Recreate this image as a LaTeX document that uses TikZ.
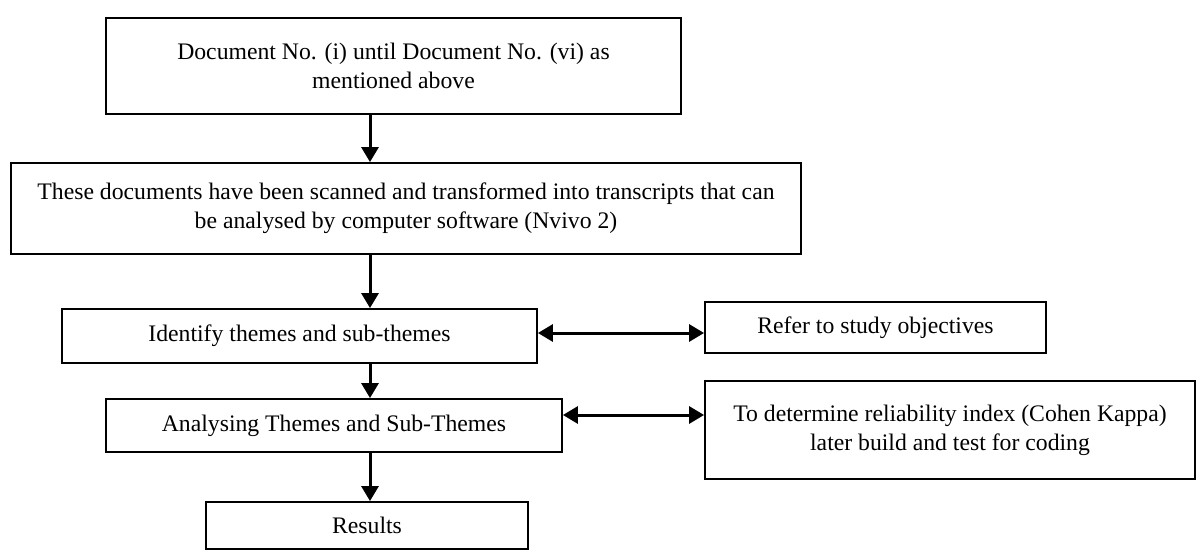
\documentclass[tikz,border=0pt]{standalone}
\usepackage{fontspec}
\setmainfont{Liberation Serif}
\usetikzlibrary{arrows.meta}
\tikzset{
  stepbox/.style={draw=black,line width=1.8pt,inner sep=0pt,align=center,font=\fontsize{23.7}{29}\selectfont},
  arr/.style={-{Triangle[length=15pt,width=17pt]},draw=black,line width=3pt},
  darr/.style={{Triangle[length=15pt,width=17pt]}-{Triangle[length=15pt,width=17pt]},draw=black,line width=3pt}
}
\begin{document}
\begin{tikzpicture}[x=1pt,y=-1pt]
  \useasboundingbox (0,0) rectangle (1197,550);
  % main column
  \node[stepbox,minimum width=575pt,minimum height=96pt] (docs) at (393.5,66) {Document No. (i) until Document No. (vi) as\\mentioned above};
  \node[stepbox,minimum width=790pt,minimum height=91pt] (scan) at (406,208.5) {These documents have been scanned and transformed into transcripts that can\\be analysed by computer software (Nvivo 2)};
  \node[stepbox,minimum width=475pt,minimum height=54pt] (ident) at (299.5,336) {Identify themes and sub-themes};
  \node[stepbox,minimum width=456pt,minimum height=53pt] (anal) at (334,425.5) {Analysing Themes and Sub-Themes};
  \node[stepbox,minimum width=322pt,minimum height=47pt] (res) at (367,525.5) {Results};
  % side boxes
  \node[stepbox,minimum width=341pt,minimum height=51pt] (obj) at (875.5,327.5) {Refer to study objectives};
  \node[stepbox,minimum width=490pt,minimum height=98pt] (kappa) at (950,430) {To determine reliability index (Cohen Kappa)\\later build and test for coding};
  % guide coordinates
  \coordinate (mid) at (370,0);
  \coordinate (row1) at (0,333);
  \coordinate (row2) at (0,415);
  \draw[arr] (docs.south -| mid) -- (scan.north -| mid);
  \draw[arr] (scan.south -| mid) -- (ident.north -| mid);
  \draw[arr] (ident.south -| mid) -- (anal.north -| mid);
  \draw[arr] (anal.south -| mid) -- (res.north -| mid);
  \draw[darr] (ident.east |- row1) -- (obj.west |- row1);
  \draw[darr] (anal.east |- row2) -- (kappa.west |- row2);
\end{tikzpicture}
\end{document}
